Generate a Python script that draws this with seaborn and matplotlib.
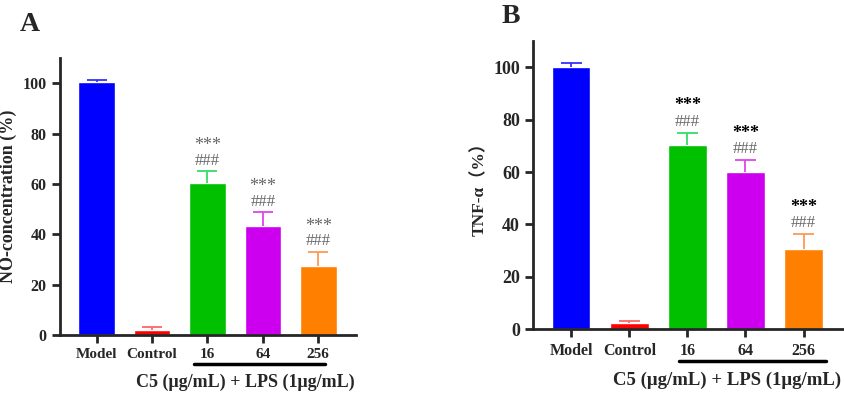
import numpy as np
import pandas as pd
import seaborn as sns
import matplotlib.pyplot as plt

groups = ["Model", "Control", "16", "64", "256"]
colors = ["#0000FF", "#FF0000", "#00C000", "#CC00EE", "#FF8000"]
err_colors = ["#3333FF", "#FF6666", "#33DD66", "#DD44EE", "#FF9955"]

no_vals = [100.4, 2.1, 60.2, 43.4, 27.4]
no_err = [1.0, 0.9, 4.8, 5.4, 5.6]
tnf_vals = [100.0, 2.3, 70.4, 60.1, 30.7]
tnf_err = [1.5, 0.7, 4.6, 4.4, 5.7]

sns.set_style("ticks")
plt.rcParams['font.family'] = ['Liberation Serif', 'Noto Sans CJK SC']
plt.rcParams['font.weight'] = 'bold'

fig = plt.figure(figsize=(8.44, 3.93), dpi=100)
axA = fig.add_axes([0.0711, 0.1476, 0.3507, 0.7048])
axB = fig.add_axes([0.6315, 0.1620, 0.3673, 0.7337])


def panel(ax, vals, errs, ylabel, star_color, star_weight, ysize, xsize, labsize):
    df = pd.DataFrame({"group": groups, "value": vals})
    sns.barplot(data=df, x="group", y="value", hue="group", palette=colors,
                order=groups, width=0.66, saturation=1, legend=False, ax=ax)
    x = np.arange(len(groups))
    tops = np.array(vals) + np.array(errs)
    ax.vlines(x, vals, tops, colors=err_colors, lw=1.3, zorder=3)
    ax.hlines(tops, x - 0.18, x + 0.18, colors=err_colors, lw=1.3, zorder=3)
    for i in range(2, 5):
        ax.text(i, tops[i] + 4.2, "###", ha="center", va="center", color="#666666",
                fontsize=12, fontweight="normal")
        ax.text(i, tops[i] + 10.2, "***", ha="center", va="center", color=star_color,
                fontsize=13, fontweight=star_weight)
    ax.set_ylim(0, 110)
    ax.set_xlim(-0.66, 4.68)
    ax.set_yticks([0, 20, 40, 60, 80, 100])
    ax.set_xlabel("")
    ax.set_ylabel(ylabel, fontsize=labsize, fontweight="bold")
    ax.tick_params(axis="both", width=2, length=6)
    ax.tick_params(axis="y", labelsize=ysize)
    ax.tick_params(axis="x", labelsize=xsize)
    for lab in ax.get_xticklabels() + ax.get_yticklabels():
        lab.set_fontweight("bold")
    for s in ["left", "bottom"]:
        ax.spines[s].set_linewidth(2)
    sns.despine(ax=ax)


panel(axA, no_vals, no_err, "NO-concentration (%)", "#666666", "normal", 11.5, 11, 13)
panel(axB, tnf_vals, tnf_err, "TNF-α（%）", "black", "bold", 13, 11.5, 12.5)

# group underline and label
fig.add_artist(plt.Line2D([194 / 844, 325 / 844], [1 - 364 / 393] * 2, color="black", lw=2.5))
fig.add_artist(plt.Line2D([679 / 844, 826 / 844], [1 - 361 / 393] * 2, color="black", lw=2.5))
fig.text(245 / 844, 1 - 382 / 393, "C5 (μg/mL) + LPS (1μg/mL)", ha="center", va="center",
         fontsize=13, fontweight="bold")
fig.text(727 / 844, 1 - 380 / 393, "C5 (μg/mL) + LPS (1μg/mL)", ha="center", va="center",
         fontsize=13.5, fontweight="bold")

fig.text(20 / 844, 1 - 31 / 393, "A", fontsize=20, fontweight="bold", ha="left", va="baseline")
fig.text(502 / 844, 1 - 23 / 393, "B", fontsize=20, fontweight="bold", ha="left", va="baseline")

fig.savefig("out.png", dpi=100)
